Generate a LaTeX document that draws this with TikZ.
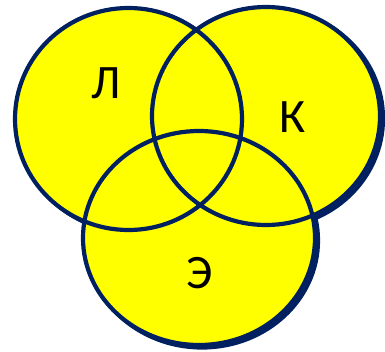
\documentclass[tikz,border=0pt]{standalone}
\usepackage{fontspec}
\setmainfont{Carlito}
\definecolor{navy}{HTML}{002060}
\definecolor{vyellow}{HTML}{FFFF00}
\begin{document}
\begin{tikzpicture}[x=1pt,y=-1pt,
  outline/.style={draw=navy,line width=4.2pt},
  shadowline/.style={draw=navy,line width=4.2pt},
  lbl/.style={font=\fontsize{48}{48}\selectfont,text=black,inner sep=0pt}]
\useasboundingbox (0,0) rectangle (385,351);
% shadows
\draw[shadowline] (131.5,121) ellipse [x radius=113.5, y radius=111];
\draw[shadowline] (269,118.5) ellipse [x radius=114, y radius=109];
\draw[shadowline] (202,240.5) ellipse [x radius=116, y radius=107];
% fills
\fill[vyellow] (128.5,119) ellipse [x radius=113.5, y radius=111];
\fill[vyellow] (266,116) ellipse [x radius=114, y radius=109];
\fill[vyellow] (199,238) ellipse [x radius=116, y radius=107];
% outlines
\draw[outline] (128.5,119) ellipse [x radius=113.5, y radius=111];
\draw[outline] (266,116) ellipse [x radius=114, y radius=109];
\draw[outline] (199,238) ellipse [x radius=116, y radius=107];
% labels
\node[lbl] (L) at (106,83) {Л};
\node[lbl] (K) at (293,117) {К};
\node[lbl] (E) at (200,273) {Э};
\end{tikzpicture}
\end{document}
